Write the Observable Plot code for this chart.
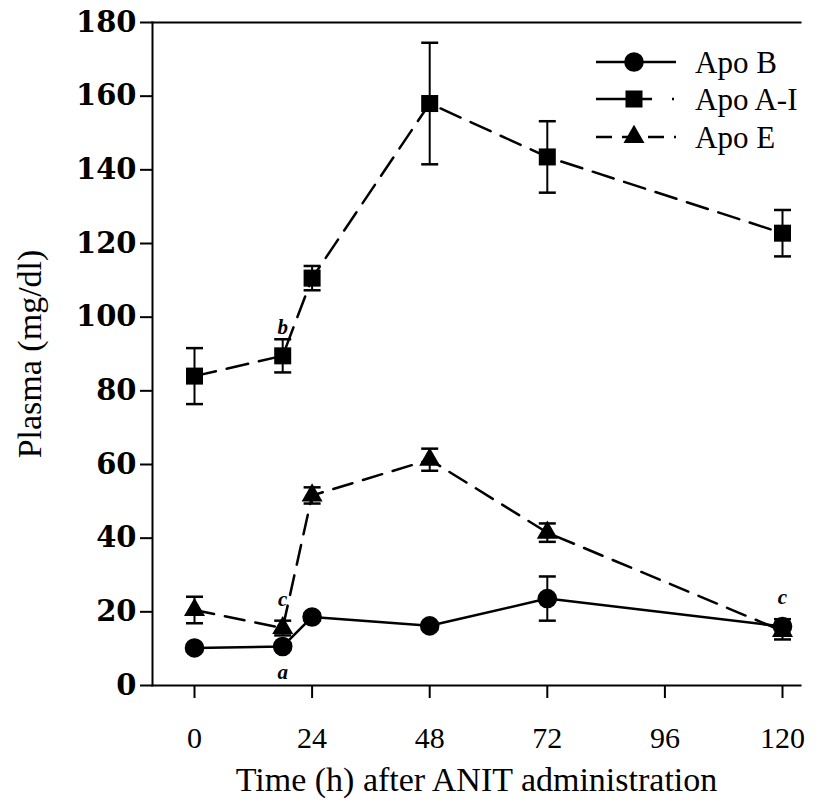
<!DOCTYPE html>
<html>
<head>
<meta charset="utf-8">
<script src="https://cdn.jsdelivr.net/npm/d3@7"></script>
<script src="https://cdn.jsdelivr.net/npm/@observablehq/plot@0.6"></script>
<style>
  html, body { margin: 0; padding: 0; background: white; }
  #chart { width: 830px; height: 808px; }
</style>
</head>
<body>
<div id="chart"></div>
<script>
// ---- data ----
const times = [0, 18, 24, 48, 72, 120];
const xTicks = [0, 24, 48, 72, 96, 120];
const yTicks = [0, 20, 40, 60, 80, 100, 120, 140, 160, 180];

const seriesNames = ["Apo B", "Apo A-I", "Apo E"];
const apoB    = [10.2, 10.6, 18.6, 16.2, 23.6, 16.0];
const apoBErr = [1.0, 1.0, 1.0, 1.0, 6.0, 2.0];
const apoAI    = [84.0, 89.5, 110.6, 158.0, 143.5, 122.8];
const apoAIErr = [7.6, 4.5, 3.3, 16.5, 9.7, 6.3];
const apoE    = [20.5, 15.6, 51.6, 61.3, 41.5, 14.8];
const apoEErr = [3.6, 2.0, 2.2, 3.0, 2.5, 2.3];

// significance letters: label, series, time
const noteLabels = ["a", "b", "c", "c"];
const noteSeries = ["Apo B", "Apo A-I", "Apo E", "Apo B"];
const noteTimes  = [18, 18, 18, 120];
const noteSide   = ["below", "above", "above", "above"];

const xTitle = "Time (h) after ANIT administration";
const yTitle = "Plasma (mg/dl)";

// ---- build tidy table ----
const valuesBy = {"Apo B": apoB, "Apo A-I": apoAI, "Apo E": apoE};
const errBy = {"Apo B": apoBErr, "Apo A-I": apoAIErr, "Apo E": apoEErr};
const rows = [];
for (const s of seriesNames) {
  times.forEach((t, i) => rows.push({series: s, t, v: valuesBy[s][i], e: errBy[s][i]}));
}
const notes = noteLabels.map((label, i) => {
  const s = noteSeries[i];
  const idx = times.indexOf(noteTimes[i]);
  return {label, t: noteTimes[i], v: valuesBy[s][idx], side: noteSide[i]};
});

const symbolBy = {"Apo B": "circle", "Apo A-I": "square", "Apo E": "triangle"};
const rBy = {"Apo B": 9.8, "Apo A-I": 9.6, "Apo E": 7.8};
const dashBy = {"Apo B": null, "Apo A-I": "22,11", "Apo E": "20,11"};

const capSymbol = {
  draw(ctx, size) {
    const r = Math.sqrt(size / Math.PI);
    ctx.moveTo(-r, 0);
    ctx.lineTo(r, 0);
  }
};

const font = "'Liberation Serif', 'DejaVu Serif', serif";

const marks = [
  Plot.frame({anchor: "left", strokeWidth: 2}),
  Plot.frame({anchor: "bottom", strokeWidth: 2}),
  Plot.frame({anchor: "top", strokeWidth: 2}),
  Plot.axisX(xTicks, {tickSize: 13, tickPadding: 28, fontSize: 30, strokeWidth: 2, label: null}),
  Plot.axisY(yTicks, {tickSize: 12, tickPadding: 4, fontSize: 29, fontFamily: "'DejaVu Serif', serif", fontWeight: "bold", strokeWidth: 2, label: null}),
  Plot.text([yTitle], {frameAnchor: "left", textAnchor: "middle", dx: -122, rotate: -90, text: d => d, fontSize: 34}),
  Plot.text([xTitle], {frameAnchor: "bottom", textAnchor: "middle", dy: 105, text: d => d, fontSize: 34}),
];

for (const s of seriesNames) {
  const data = rows.filter(d => d.series === s);
  marks.push(
    Plot.line(data, {x: "t", y: "v", stroke: "black", strokeWidth: 2.5, strokeDasharray: dashBy[s] || undefined}),
    Plot.ruleX(data, {x: "t", y1: d => d.v - d.e, y2: d => d.v + d.e, stroke: "black", strokeWidth: 2}),
    Plot.dot(data, {x: "t", y: d => d.v + d.e, symbol: capSymbol, r: 8.5, stroke: "black", strokeWidth: 2.5}),
    Plot.dot(data, {x: "t", y: d => d.v - d.e, symbol: capSymbol, r: 8.5, stroke: "black", strokeWidth: 2.5}),
    Plot.dot(data, {x: "t", y: "v", symbol: symbolBy[s], r: rBy[s], fill: "black", stroke: "none"})
  );
}

marks.push(
  Plot.text(notes.filter(d => d.side === "above"), {x: "t", y: "v", text: "label", dy: -29, fontSize: 21, fontStyle: "italic", fontWeight: "bold"}),
  Plot.text(notes.filter(d => d.side === "below"), {x: "t", y: "v", text: "label", dy: 26, fontSize: 21, fontStyle: "italic", fontWeight: "bold"})
);

const chart = Plot.plot({
  width: 830,
  height: 808,
  marginLeft: 152,
  marginRight: 30,
  marginTop: 22,
  marginBottom: 123,
  style: {fontFamily: font, fontSize: "25px", background: "white", color: "black", overflow: "visible"},
  x: {domain: [0, 120], range: [194, 782]},
  y: {domain: [0, 180], range: [685, 22]},
  marks
});

// ---- legend (drawn inside the svg, top right) ----
const svg = d3.select(chart);
const legendY = [62, 99, 137];
const lg = svg.append("g").attr("font-family", font).attr("font-size", 31).attr("text-anchor", "start");
seriesNames.forEach((s, i) => {
  const y = legendY[i];
  const g = lg.append("g");
  g.append("line").attr("x1", 596).attr("x2", 676).attr("y1", y).attr("y2", y)
    .attr("stroke", "black").attr("stroke-width", 2.5)
    .attr("stroke-dasharray", i === 2 ? "16,10" : (i === 1 ? "56,20,2,10" : null));
  const sym = {"circle": d3.symbolCircle, "square": d3.symbolSquare, "triangle": d3.symbolTriangle}[symbolBy[s]];
  g.append("path").attr("d", d3.symbol(sym, Math.PI * rBy[s] * rBy[s])())
    .attr("transform", `translate(634,${y})`).attr("fill", "black");
  g.append("text").attr("x", 695).attr("y", y).attr("dy", "0.35em").attr("fill", "black")
    .attr("text-anchor", "start").text(s);
});

document.getElementById("chart").appendChild(chart);
</script>
</body>
</html>
